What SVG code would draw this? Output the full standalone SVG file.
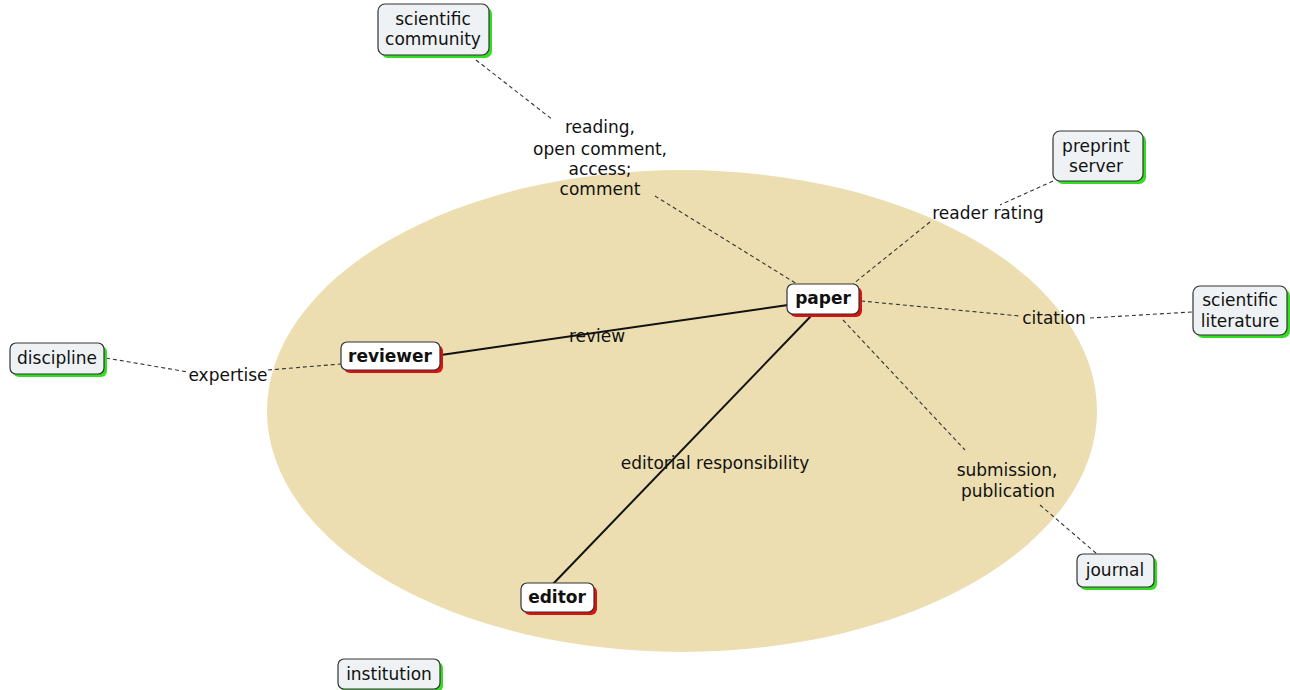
<svg xmlns="http://www.w3.org/2000/svg" width="1290" height="690" viewBox="0 0 1290 690">
  <style>
    text { font-family: "DejaVu Sans", Verdana, sans-serif; font-size: 17px; fill: #111; }
    .lbl { text-anchor: middle; }
    .outer-shadow { fill: #33dd22; }
    .inner-shadow { fill: #dd1111; }
    .outer { fill: #eef2f4; stroke: #333; stroke-width: 1.2; }
    .inner { fill: #ffffff; stroke: #333; stroke-width: 1.2; }
    .name { text-anchor: middle; }
    .bold { font-weight: bold; }
    .solid { stroke: #111; stroke-width: 2; fill: none; }
    .dash { stroke: #333; stroke-width: 1.1; stroke-dasharray: 4 3; fill: none; }
  </style>

  <rect width="1290" height="690" fill="#ffffff"/>
  <ellipse cx="682" cy="411" rx="415" ry="241" fill="#ecdeb0"/>

  <g id="connectors">
    <line class="solid" x1="788" y1="305" x2="441" y2="355"/>
    <line class="solid" x1="811" y1="316" x2="553" y2="584"/>
    <path class="dash" d="M476 60 L553 120 M655 196 L797 284"/>
    <path class="dash" d="M1053 181 L1000 205 M930 222 L853 284"/>
    <path class="dash" d="M861 301 L1020 316 M1090 318 L1192 312"/>
    <path class="dash" d="M843 320 L965 450 M1040 505 L1097 554"/>
    <path class="dash" d="M106 358 L188 372 M268 370 L341 364"/>
    <text class="lbl" x="597" y="342">review</text>
    <text class="lbl" x="715" y="469">editorial responsibility</text>
    <text class="lbl" x="600" y="133">reading,</text>
    <text class="lbl" x="600" y="155">open comment,</text>
    <text class="lbl" x="600" y="175">access;</text>
    <text class="lbl" x="600" y="195">comment</text>
    <text class="lbl" x="988" y="219">reader rating</text>
    <text class="lbl" x="1054" y="324">citation</text>
    <text class="lbl" x="1007" y="476">submission,</text>
    <text class="lbl" x="1008" y="497">publication</text>
    <text class="lbl" x="228" y="381">expertise</text>
  </g>

  <g id="node-scientific-community">
    <rect class="outer-shadow" x="381" y="7" width="111" height="51" rx="7"/>
    <rect class="outer" x="378" y="4" width="111" height="51" rx="7"/>
    <text class="name" x="433" y="25">scientific</text>
    <text class="name" x="433" y="45">community</text>
  </g>

  <g id="node-paper">
    <rect class="inner-shadow" x="790" y="287" width="72" height="30" rx="6"/>
    <rect class="inner" x="787" y="284" width="72" height="30" rx="6"/>
    <text class="name bold" x="823" y="304">paper</text>
  </g>

  <g id="node-reviewer">
    <rect class="inner-shadow" x="344" y="345" width="99" height="28" rx="6"/>
    <rect class="inner" x="341" y="342" width="99" height="28" rx="6"/>
    <text class="name bold" x="390" y="362">reviewer</text>
  </g>

  <g id="node-editor">
    <rect class="inner-shadow" x="524" y="586" width="73" height="29" rx="6"/>
    <rect class="inner" x="521" y="583" width="73" height="29" rx="6"/>
    <text class="name bold" x="557" y="603">editor</text>
  </g>

  <g id="node-discipline">
    <rect class="outer-shadow" x="13" y="346" width="94" height="31" rx="6"/>
    <rect class="outer" x="10" y="343" width="94" height="31" rx="6"/>
    <text class="name" x="57" y="364">discipline</text>
  </g>

  <g id="node-preprint-server">
    <rect class="outer-shadow" x="1056" y="134" width="90" height="50" rx="7"/>
    <rect class="outer" x="1053" y="131" width="90" height="50" rx="7"/>
    <text class="name" x="1096" y="152">preprint</text>
    <text class="name" x="1096" y="172">server</text>
  </g>

  <g id="node-scientific-literature">
    <rect class="outer-shadow" x="1196" y="289" width="94" height="49" rx="7"/>
    <rect class="outer" x="1193" y="286" width="94" height="49" rx="7"/>
    <text class="name" x="1240" y="306">scientific</text>
    <text class="name" x="1240" y="327">literature</text>
  </g>

  <g id="node-journal">
    <rect class="outer-shadow" x="1080" y="557" width="77" height="33" rx="6"/>
    <rect class="outer" x="1077" y="554" width="77" height="33" rx="6"/>
    <text class="name" x="1115" y="576">journal</text>
  </g>

  <g id="node-institution">
    <rect class="outer-shadow" x="341" y="662" width="102" height="30" rx="6"/>
    <rect class="outer" x="338" y="659" width="102" height="30" rx="6"/>
    <text class="name" x="389" y="680">institution</text>
  </g>
</svg>
